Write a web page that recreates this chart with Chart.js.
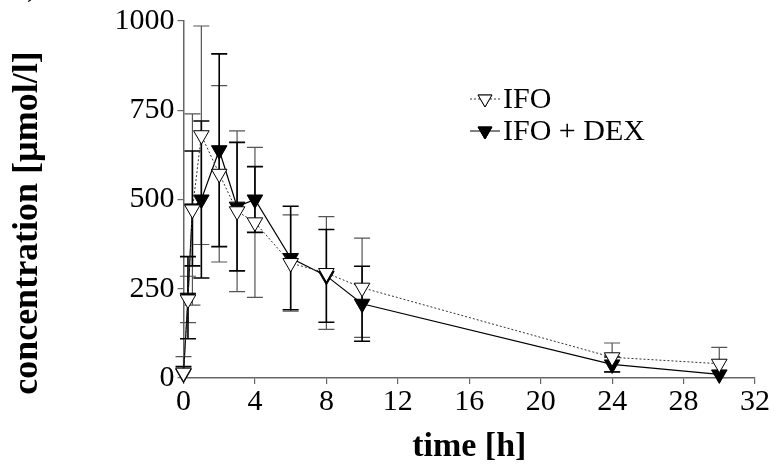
<!DOCTYPE html>
<html>
<head>
<meta charset="utf-8">
<script src="https://cdn.jsdelivr.net/npm/chart.js@4.4.0/dist/chart.umd.min.js"></script>
<style>
  html, body { margin: 0; padding: 0; background: #fff; }
  #wrap { width: 774px; height: 469px; position: relative; }
</style>
</head>
<body>
<div id="wrap"><canvas id="myChart" width="774" height="469"></canvas></div>
<script>
// time points [h]
const times = [0, 0.25, 0.5, 1, 2, 3, 4, 6, 8, 10, 24, 30];
// IFO alone: mean and SD [µmol/l]
const ifoMean = [15, 220, 472, 680, 572, 467, 436, 322, 294, 253, 58, 40];
const ifoSd = [45, 65, 268, 306, 247, 225, 210, 135, 158, 139, 40, 46];
// IFO + DEX: mean and SD
const dexMean = [12, 225, 475, 500, 638, 480, 500, 336, 286, 208, 38, 10];
const dexSd = [20, 115, 161, 220, 270, 180, 92, 145, 130, 105, 21, 0];
// axis ticks
const xTicks = [0, 4, 8, 12, 16, 20, 24, 28, 32];
const yTicks = [0, 250, 500, 750, 1000];

const FONT = "'Liberation Serif', 'Times New Roman', serif";

const toPoints = (ys) => times.map((t, i) => ({ x: t, y: ys[i] }));

// draws the SD bars with caps, using the chart's own scales
const errorBars = {
  id: 'errorBars',
  beforeDatasetsDraw(chart) {
    const ctx = chart.ctx;
    const xs = chart.scales.x, ys = chart.scales.y;
    const sets = [
      { mean: ifoMean, sd: ifoSd, color: '#555', width: 1.2 },
      { mean: dexMean, sd: dexSd, color: '#000', width: 1.6 }
    ];
    ctx.save();
    sets.forEach(s => {
      ctx.strokeStyle = s.color;
      ctx.lineWidth = s.width;
      times.forEach((t, i) => {
        if (!s.sd[i]) return;
        const px = xs.getPixelForValue(t);
        const top = ys.getPixelForValue(s.mean[i] + s.sd[i]);
        const bot = ys.getPixelForValue(Math.max(0, s.mean[i] - s.sd[i]));
        ctx.beginPath();
        ctx.moveTo(px, top); ctx.lineTo(px, bot);
        ctx.moveTo(px - 8, top); ctx.lineTo(px + 8, top);
        if (s.mean[i] - s.sd[i] > 0) {
          ctx.moveTo(px - 8, bot); ctx.lineTo(px + 8, bot);
        }
        ctx.stroke();
      });
    });
    ctx.restore();
  }
};

// legend inside the plot, the y title (sits a bit low in the original) and the cut-off panel mark
const innerLegend = {
  id: 'innerLegend',
  afterDraw(chart) {
    const ctx = chart.ctx;
    const rows = [
      { label: 'IFO', ds: chart.data.datasets[0], y: 99 },
      { label: 'IFO + DEX', ds: chart.data.datasets[1], y: 131 }
    ];
    ctx.save();
    rows.forEach(r => {
      ctx.strokeStyle = r.ds.borderColor;
      ctx.lineWidth = 1;
      ctx.setLineDash(r.ds.borderDash || []);
      ctx.beginPath();
      ctx.moveTo(470, r.y); ctx.lineTo(500, r.y);
      ctx.stroke();
      ctx.setLineDash([]);
      Chart.helpers.drawPoint(ctx, {
        pointStyle: 'triangle', radius: 8, rotation: 180, borderWidth: 1
      }, 485, r.y);
      ctx.fillStyle = r.ds.pointBackgroundColor;
      ctx.strokeStyle = '#000';
      ctx.fill();
      ctx.stroke();
      ctx.fillStyle = '#000';
      ctx.font = '30px ' + FONT;
      ctx.textBaseline = 'middle';
      ctx.fillText(r.label, 503, r.y + 1);
    });
    ctx.font = '30px ' + FONT;
    ctx.textBaseline = 'alphabetic';
    ctx.fillText(')', 27, -4);

    ctx.translate(28, 223);
    ctx.rotate(-Math.PI / 2);
    ctx.font = 'bold 36px ' + FONT;
    ctx.textAlign = 'center';
    ctx.textBaseline = 'middle';
    ctx.fillText('concentration [µmol/l]', 0, 0);
    ctx.restore();
  }
};

const ctx = document.getElementById('myChart').getContext('2d');
new Chart(ctx, {
  type: 'line',
  data: {
    datasets: [{
      label: 'IFO',
      data: toPoints(ifoMean),
      borderColor: '#333',
      borderWidth: 1,
      borderDash: [2, 2],
      pointStyle: 'triangle',
      pointRotation: 180,
      pointRadius: 9,
      pointBorderWidth: 1,
      pointBorderColor: '#000',
      pointBackgroundColor: '#fff',
      clip: false
    }, {
      label: 'IFO + DEX',
      data: toPoints(dexMean),
      borderColor: '#000',
      borderWidth: 1.2,
      pointStyle: 'triangle',
      pointRotation: 180,
      pointRadius: 9,
      pointBorderWidth: 1,
      pointBorderColor: '#000',
      pointBackgroundColor: '#000',
      clip: false
    }]
  },
  options: {
    responsive: false,
    animation: false,
    layout: { padding: { top: 18, right: 19, bottom: 0, left: 0 } },
    plugins: { legend: { display: false }, tooltip: { enabled: false } },
    scales: {
      x: {
        type: 'linear',
        min: 0, max: 32,
        afterBuildTicks: (s) => { s.ticks = xTicks.map(v => ({ value: v })); },
        afterFit: (s) => { s.height = 91; },
        grid: { display: true, drawOnChartArea: false, tickLength: 6, color: '#666', lineWidth: 1.2 },
        border: { color: '#666', width: 1.5 },
        ticks: { color: '#000', font: { family: FONT, size: 30 }, padding: 0, maxRotation: 0,
                 callback: (v) => String(v) },
        title: { display: true, text: 'time [h]', color: '#000',
                 font: { family: FONT, size: 34, weight: 'bold' }, padding: { top: 0, bottom: 1 } }
      },
      y: {
        min: 0, max: 1000,
        afterBuildTicks: (s) => { s.ticks = yTicks.map(v => ({ value: v })); },
        afterFit: (s) => { s.width = 183.5; },
        grid: { display: true, drawOnChartArea: false, tickLength: 6, color: '#666', lineWidth: 1.2 },
        border: { color: '#666', width: 1.5 },
        ticks: { color: '#000', font: { family: FONT, size: 30 }, padding: 3,
                 callback: (v) => String(v) }
      }
    }
  },
  plugins: [errorBars, innerLegend]
});
</script>
</body>
</html>
